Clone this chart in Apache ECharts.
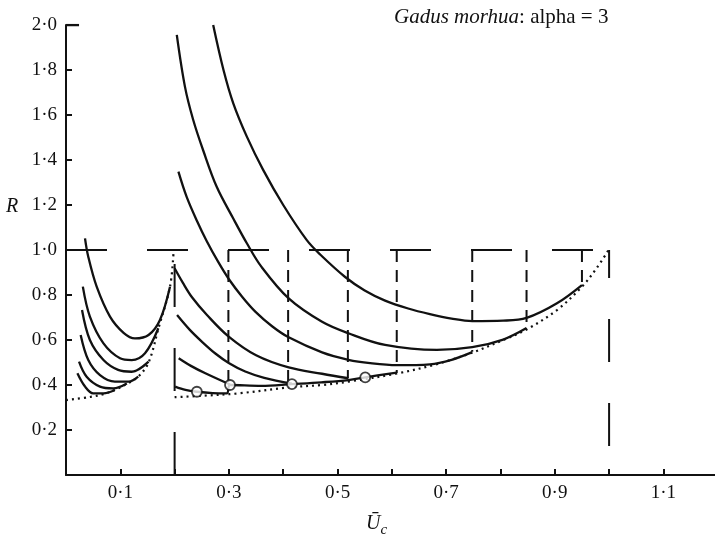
<!DOCTYPE html>
<html>
<head>
<meta charset="utf-8">
<script src="https://cdn.jsdelivr.net/npm/echarts@6/dist/echarts.min.js"></script>
<style>
  html, body { margin: 0; padding: 0; background: #fff; }
  #chart { width: 715px; height: 537px; }
</style>
</head>
<body>
<div id="chart"></div>
<script>
/** 左侧一组曲线 (U_c < 0.2) */
const left1 = [[0.035, 1.052], [0.041, 0.97], [0.0565, 0.837], [0.081, 0.704], [0.106, 0.632], [0.127, 0.607], [0.152, 0.622], [0.173, 0.689], [0.1915, 0.837]]
const left2 = [[0.031, 0.837], [0.044, 0.704], [0.069, 0.585], [0.0995, 0.519], [0.121, 0.511], [0.1455, 0.541], [0.170, 0.652]]
const left3 = [[0.0295, 0.733], [0.044, 0.60], [0.069, 0.511], [0.096, 0.467], [0.121, 0.459], [0.152, 0.504]]
const left4 = [[0.027, 0.622], [0.041, 0.511], [0.0626, 0.444], [0.090, 0.415], [0.115, 0.415], [0.133, 0.437]]
const left5 = [[0.024, 0.504], [0.038, 0.437], [0.0626, 0.393], [0.087, 0.385], [0.112, 0.407]]
const left6 = [[0.021, 0.452], [0.035, 0.393], [0.050, 0.363], [0.069, 0.363], [0.09, 0.378]]

/** 右侧一组曲线 (U_c > 0.2) */
const curveA = [[0.271, 2.0], [0.29, 1.80], [0.308, 1.652], [0.333, 1.504], [0.363, 1.356], [0.40, 1.20], [0.443, 1.045], [0.468, 0.98], [0.514, 0.88], [0.55, 0.82], [0.5875, 0.775], [0.63, 0.74], [0.67, 0.715], [0.71, 0.695], [0.748, 0.684], [0.805, 0.686], [0.848, 0.698], [0.904, 0.763], [0.95, 0.844]]
const curveB = [[0.204, 1.956], [0.219, 1.726], [0.234, 1.58], [0.253, 1.44], [0.2775, 1.281], [0.308, 1.14], [0.333, 1.03], [0.36, 0.925], [0.41, 0.785], [0.4715, 0.681], [0.52, 0.63], [0.5875, 0.578], [0.683, 0.556], [0.748, 0.568], [0.805, 0.602], [0.848, 0.653]]
const curveC = [[0.207, 1.348], [0.222, 1.237], [0.241, 1.13], [0.259, 1.04], [0.28, 0.948], [0.30, 0.87], [0.325, 0.79], [0.349, 0.725], [0.38, 0.66], [0.41, 0.612], [0.4715, 0.545], [0.52, 0.512], [0.56, 0.497], [0.609, 0.488], [0.67, 0.492], [0.71, 0.512], [0.748, 0.546]]
const curveD = [[0.2, 0.919], [0.215, 0.855], [0.232, 0.79], [0.26, 0.71], [0.2996, 0.615], [0.35, 0.532], [0.41, 0.478], [0.4715, 0.45], [0.52, 0.43]]
const curveE = [[0.2045, 0.711], [0.228, 0.645], [0.2505, 0.592], [0.275, 0.54], [0.2996, 0.498], [0.33, 0.46], [0.365, 0.432], [0.416, 0.406]]
const curveF = [[0.2075, 0.519], [0.23, 0.485], [0.2566, 0.452], [0.302, 0.402]]
const optPath = [[0.201, 0.393], [0.22, 0.378], [0.241, 0.370], [0.27, 0.364], [0.296, 0.363], [0.302, 0.40], [0.36, 0.396], [0.416, 0.404], [0.47, 0.412], [0.52, 0.422], [0.551, 0.434], [0.609, 0.455]]

/** 点线包络 */
const envLeft = [[0, 0.333], [0.045, 0.347], [0.07, 0.36], [0.09, 0.378], [0.112, 0.405], [0.133, 0.437], [0.152, 0.50], [0.17, 0.65], [0.1915, 0.837], [0.198, 0.99]]
const envRight = [[0.2, 0.346], [0.25, 0.352], [0.318, 0.363], [0.4125, 0.39], [0.4715, 0.40], [0.52, 0.415], [0.609, 0.451], [0.683, 0.493], [0.748, 0.544], [0.805, 0.60], [0.848, 0.647], [0.904, 0.733], [0.95, 0.837], [0.977, 0.919], [0.999, 1.0]]

/** 圆圈标记 */
const optPoints = [[0.241, 0.370], [0.302, 0.40], [0.416, 0.404], [0.551, 0.434]]

/** 竖直虚线: 从 R=1 落到曲线 */
const dropX = [0.299, 0.409, 0.519, 0.609, 0.748, 0.848, 0.95]
const dropR = [0.40, 0.404, 0.43, 0.453, 0.548, 0.653, 0.837]

/** R=1 水平虚线和两条长虚线 */
const levelLine = [[0, 1], [1.0, 1]]
const bound02 = [[0.2, 0], [0.2, 1]]
const bound10 = [[1.0, 1], [1.0, 0]]
const topTick = [[0, 2], [0.024, 2]]

const ink = '#111'
const serif = '"Liberation Serif", "DejaVu Serif", serif'

function solid(data) {
  return {
    type: 'line',
    data: data,
    smooth: 0.35,
    showSymbol: false,
    silent: true,
    lineStyle: {color: ink, width: 2.3},
  }
}

function dashed(data, dash, offset) {
  return {
    type: 'line',
    data: data,
    showSymbol: false,
    silent: true,
    lineStyle: {color: ink, width: 2, type: dash, dashOffset: offset || 0},
  }
}

function dotted(data) {
  return {
    type: 'line',
    data: data,
    smooth: 0.35,
    showSymbol: false,
    silent: true,
    lineStyle: {color: ink, width: 2.2, type: [2, 4]},
  }
}

const chart_option = {
  backgroundColor: '#ffffff',
  animation: false,
  /** 标题和轴名 */
  title: [
    {
      text: '{i|Gadus morhua}{r|: alpha = 3}',
      left: 389,
      top: 2,
      textStyle: {
        fontWeight: 'normal',
        rich: {
          i: {fontFamily: serif, fontStyle: 'italic', fontWeight: 'normal', fontSize: 21, color: ink},
          r: {fontFamily: serif, fontWeight: 'normal', fontSize: 21, color: ink},
        },
      },
    },
    {
      text: 'R',
      left: 1,
      top: 192,
      textStyle: {fontFamily: serif, fontStyle: 'italic', fontWeight: 'normal', fontSize: 20, color: ink},
    },
    {
      text: '{u|Ū}{c|c}',
      left: 361,
      top: 503,
      textStyle: {
        fontWeight: 'normal',
        rich: {
          u: {fontFamily: serif, fontStyle: 'italic', fontWeight: 'normal', fontSize: 20, color: ink, lineHeight: 26, verticalAlign: 'bottom'},
          c: {fontFamily: serif, fontStyle: 'italic', fontWeight: 'normal', fontSize: 15, color: ink, lineHeight: 26, verticalAlign: 'bottom', padding: [0, 0, -4, 0]},
        },
      },
    },
  ],

  grid: {
    left: 66,
    right: 0,
    top: 25,
    bottom: 62,
  },

  xAxis: {
    type: 'value',
    min: 0,
    max: 1.195,
    interval: 0.1,
    axisLine: {show: true, onZero: false, lineStyle: {color: ink, width: 2}},
    axisTick: {show: true, inside: true, length: 6, lineStyle: {color: ink, width: 2}},
    splitLine: {show: false},
    axisLabel: {
      margin: 9,
      showMaxLabel: false,
      fontFamily: serif,
      fontSize: 19,
      color: ink,
      formatter: function (value) {
        const t = Math.round(value * 10)
        if (t % 2 !== 1) return ''
        return (t / 10).toFixed(1).replace('.', '·')
      },
    },
  },

  yAxis: {
    type: 'value',
    min: 0,
    max: 2.0,
    interval: 0.2,
    axisLine: {show: true, lineStyle: {color: ink, width: 2}},
    axisTick: {show: true, inside: true, length: 6, lineStyle: {color: ink, width: 2}},
    splitLine: {show: false},
    axisLabel: {
      margin: 9,
      fontFamily: serif,
      fontSize: 19,
      color: ink,
      formatter: function (value) {
        if (value === 0) return ''
        return value.toFixed(1).replace('.', '·')
      },
    },
  },

  series: [
    dashed(levelLine, [41, 40]),
    dashed(bound02, [43, 41]),
    dashed(bound10, [43, 41], 15),
    ...dropX.map((x, i) => dashed([[x, 1], [x, dropR[i]]], [12, 8])),
    dotted(envLeft),
    dotted(envRight),
    ...[left1, left2, left3, left4, left5, left6].map(solid),
    ...[curveA, curveB, curveC, curveD, curveE, curveF].map(solid),
    solid(optPath),
    solid(topTick),
    {
      type: 'scatter',
      data: optPoints,
      symbol: 'circle',
      symbolSize: 10,
      silent: true,
      itemStyle: {color: '#fff', borderColor: ink, borderWidth: 1.8},
      z: 5,
    },
  ],
}

const chart = echarts.init(document.getElementById('chart'), null, {renderer: 'canvas'})
chart.setOption(chart_option)
</script>
</body>
</html>
